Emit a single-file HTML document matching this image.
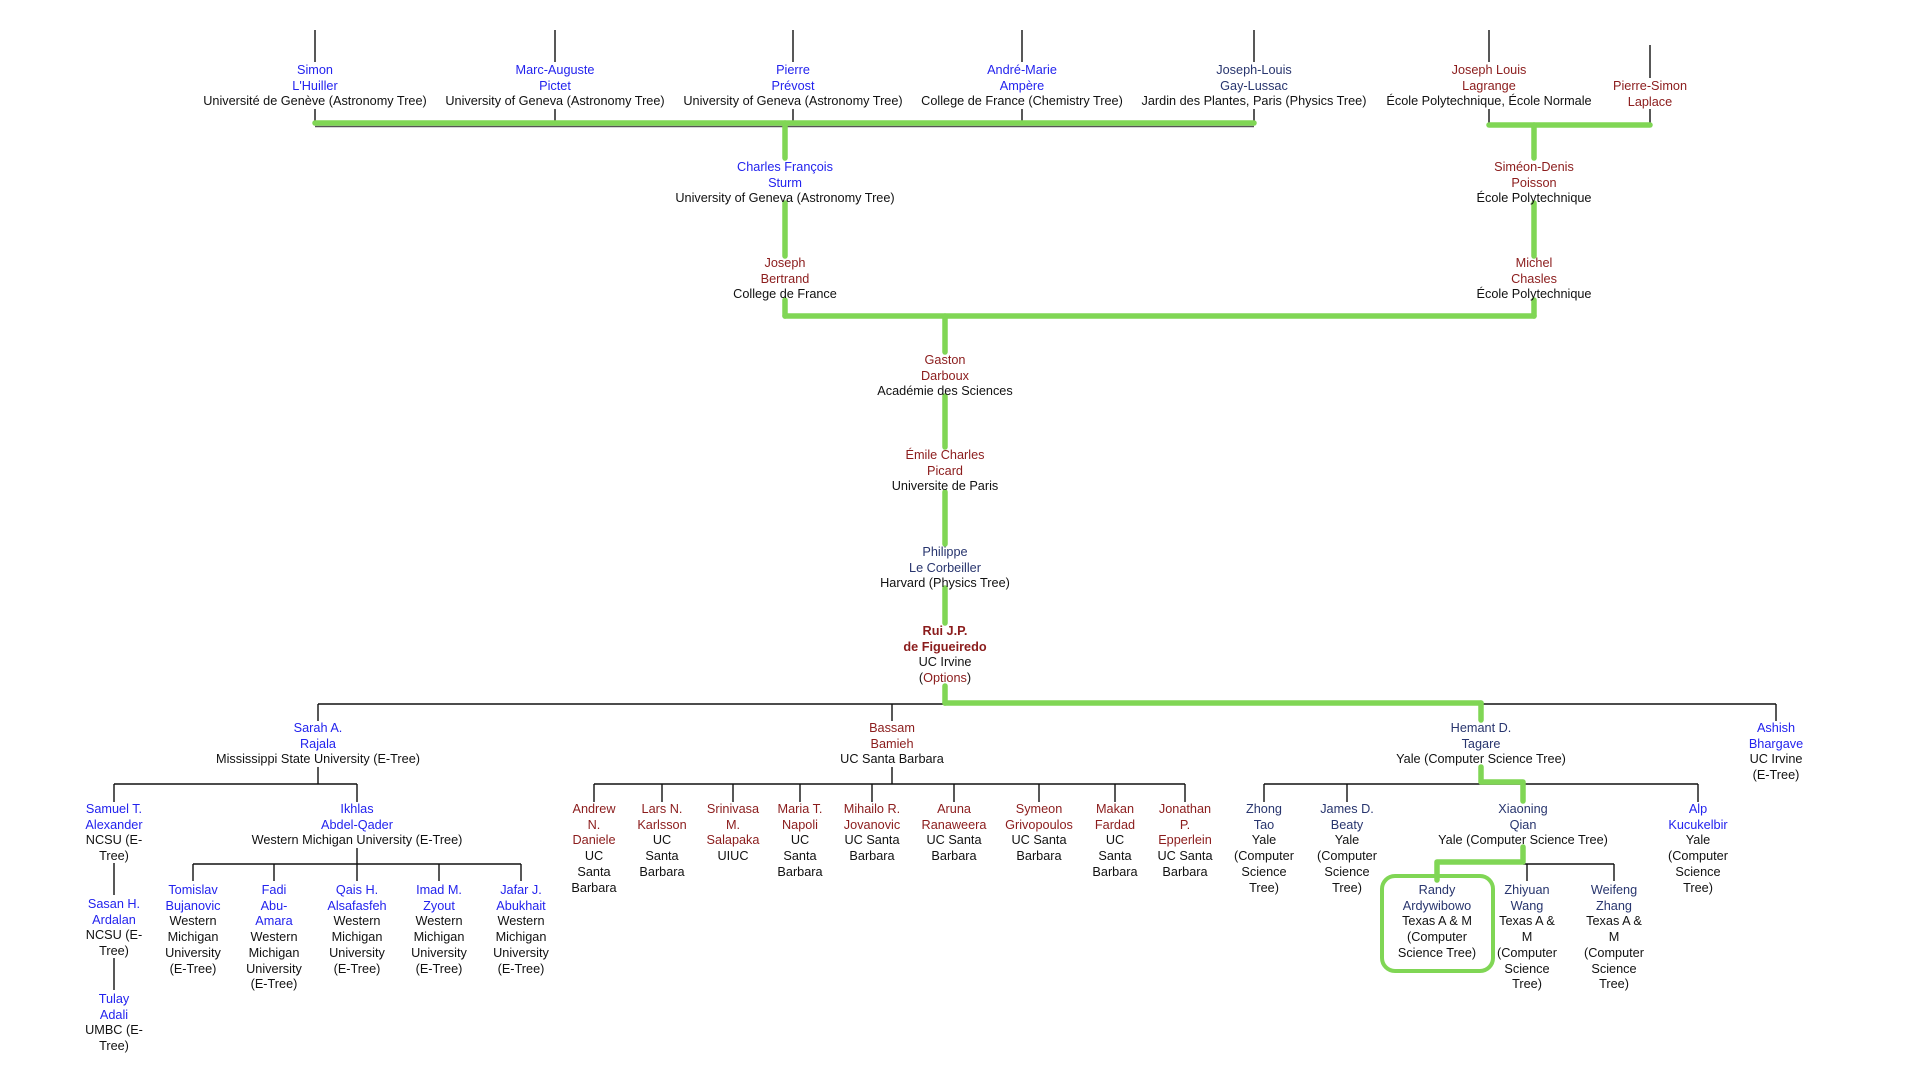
<!DOCTYPE html>
<html><head><meta charset="utf-8"><style>
body{margin:0;width:1920px;height:1080px;background:#fff;position:relative;overflow:hidden;font-family:"Liberation Sans",Arial,sans-serif;font-size:12.7px;color:#111}
.n{position:absolute;transform:translate(-50%,1px);text-align:center;white-space:nowrap;line-height:15.7px}
.b{color:#2323ee}.r{color:#8b1c1c}.v{color:#28356e}
svg{position:absolute;left:0;top:0}
</style></head><body>
<svg width="1920" height="1080">
<g stroke="#111" stroke-width="1.4" fill="none">
<line x1="315" y1="30" x2="315" y2="62"/><line x1="555" y1="30" x2="555" y2="62"/><line x1="793" y1="30" x2="793" y2="62"/><line x1="1022" y1="30" x2="1022" y2="62"/><line x1="1254" y1="30" x2="1254" y2="62"/><line x1="1489" y1="30" x2="1489" y2="62"/><line x1="1650" y1="45" x2="1650" y2="78"/>
<line x1="315" y1="109" x2="315" y2="124"/><line x1="555" y1="109" x2="555" y2="124"/><line x1="793" y1="109" x2="793" y2="124"/><line x1="1022" y1="109" x2="1022" y2="124"/><line x1="1254" y1="109" x2="1254" y2="124"/><line x1="1489" y1="109" x2="1489" y2="125"/><line x1="1650" y1="109" x2="1650" y2="125"/>
<line x1="315" y1="126.5" x2="1254" y2="126.5" stroke="#555"/>
<line x1="318" y1="704" x2="1776" y2="704"/>
<line x1="318" y1="704" x2="318" y2="721"/><line x1="892" y1="704" x2="892" y2="721"/><line x1="1776" y1="704" x2="1776" y2="721"/>
<line x1="318" y1="767" x2="318" y2="784"/><line x1="114" y1="784" x2="357" y2="784"/><line x1="114" y1="784" x2="114" y2="802"/><line x1="357" y1="784" x2="357" y2="802"/>
<line x1="114" y1="863" x2="114" y2="895"/><line x1="114" y1="958" x2="114" y2="990"/>
<line x1="357" y1="848" x2="357" y2="864"/><line x1="193" y1="864" x2="521" y2="864"/>
<line x1="193" y1="864" x2="193" y2="881"/><line x1="274" y1="864" x2="274" y2="881"/><line x1="357" y1="864" x2="357" y2="881"/><line x1="439" y1="864" x2="439" y2="881"/><line x1="521" y1="864" x2="521" y2="881"/>
<line x1="892" y1="767" x2="892" y2="784"/><line x1="594" y1="784" x2="1185" y2="784"/>
<line x1="594" y1="784" x2="594" y2="802"/><line x1="662" y1="784" x2="662" y2="802"/><line x1="733" y1="784" x2="733" y2="802"/><line x1="800" y1="784" x2="800" y2="802"/><line x1="872" y1="784" x2="872" y2="802"/><line x1="954" y1="784" x2="954" y2="802"/><line x1="1039" y1="784" x2="1039" y2="802"/><line x1="1115" y1="784" x2="1115" y2="802"/><line x1="1185" y1="784" x2="1185" y2="802"/>
<line x1="1264" y1="784" x2="1698" y2="784"/>
<line x1="1264" y1="784" x2="1264" y2="802"/><line x1="1347" y1="784" x2="1347" y2="802"/><line x1="1698" y1="784" x2="1698" y2="802"/>
<line x1="1523" y1="864" x2="1614" y2="864"/><line x1="1527" y1="864" x2="1527" y2="881"/><line x1="1614" y1="864" x2="1614" y2="881"/>
</g>
<g stroke="#80d655" stroke-width="5.5" fill="none" stroke-linecap="round" stroke-linejoin="round">
<line x1="315" y1="123" x2="1254" y2="123"/>
<line x1="1489" y1="125" x2="1650" y2="125"/>
<line x1="785" y1="123" x2="785" y2="158"/><line x1="785" y1="203" x2="785" y2="256"/><line x1="785" y1="300" x2="785" y2="316"/>
<line x1="1534" y1="125" x2="1534" y2="158"/><line x1="1534" y1="203" x2="1534" y2="256"/><line x1="1534" y1="300" x2="1534" y2="316"/>
<line x1="785" y1="316" x2="1534" y2="316"/>
<line x1="945" y1="316" x2="945" y2="352"/><line x1="945" y1="396" x2="945" y2="447"/><line x1="945" y1="492" x2="945" y2="544"/><line x1="945" y1="588" x2="945" y2="623"/><line x1="945" y1="686" x2="945" y2="703"/>
<line x1="945" y1="703" x2="1481" y2="703"/><line x1="1481" y1="703" x2="1481" y2="720"/>
<polyline points="1481,767 1481,782 1523,782 1523,801"/>
<polyline points="1523,847 1523,862 1437,862 1437,880"/>
</g>
<rect x="1382" y="876" width="111" height="95" rx="13" ry="13" fill="none" stroke="#80d655" stroke-width="4"/>
</svg>

<div class="n" style="left:315px;top:62px"><span class="b">Simon<br>L'Huiller</span><br>Université de Genève (Astronomy Tree)</div>
<div class="n" style="left:555px;top:62px"><span class="b">Marc-Auguste<br>Pictet</span><br>University of Geneva (Astronomy Tree)</div>
<div class="n" style="left:793px;top:62px"><span class="b">Pierre<br>Prévost</span><br>University of Geneva (Astronomy Tree)</div>
<div class="n" style="left:1022px;top:62px"><span class="b">André-Marie<br>Ampère</span><br>College de France (Chemistry Tree)</div>
<div class="n" style="left:1254px;top:62px"><span class="v">Joseph-Louis<br>Gay-Lussac</span><br>Jardin des Plantes, Paris (Physics Tree)</div>
<div class="n" style="left:1489px;top:62px"><span class="r">Joseph Louis<br>Lagrange</span><br>École Polytechnique, École Normale</div>
<div class="n" style="left:1650px;top:78px"><span class="r">Pierre-Simon<br>Laplace</span></div>

<div class="n" style="left:785px;top:159px"><span class="b">Charles François<br>Sturm</span><br>University of Geneva (Astronomy Tree)</div>
<div class="n" style="left:785px;top:255px"><span class="r">Joseph<br>Bertrand</span><br>College de France</div>
<div class="n" style="left:1534px;top:159px"><span class="r">Siméon-Denis<br>Poisson</span><br>École Polytechnique</div>
<div class="n" style="left:1534px;top:255px"><span class="r">Michel<br>Chasles</span><br>École Polytechnique</div>

<div class="n" style="left:945px;top:352px"><span class="r">Gaston<br>Darboux</span><br>Académie des Sciences</div>
<div class="n" style="left:945px;top:447px"><span class="r">Émile Charles<br>Picard</span><br>Universite de Paris</div>
<div class="n" style="left:945px;top:544px"><span class="v">Philippe<br>Le Corbeiller</span><br>Harvard (Physics Tree)</div>
<div class="n" style="left:945px;top:623px"><b class="r">Rui J.P.<br>de Figueiredo</b><br>UC Irvine<br>(<span class="r">Options</span>)</div>

<div class="n" style="left:318px;top:720px"><span class="b">Sarah A.<br>Rajala</span><br>Mississippi State University (E-Tree)</div>
<div class="n" style="left:892px;top:720px"><span class="r">Bassam<br>Bamieh</span><br>UC Santa Barbara</div>
<div class="n" style="left:1481px;top:720px"><span class="v">Hemant D.<br>Tagare</span><br>Yale (Computer Science Tree)</div>
<div class="n" style="left:1776px;top:720px"><span class="b">Ashish<br>Bhargave</span><br>UC Irvine<br>(E-Tree)</div>

<div class="n" style="left:114px;top:801px"><span class="b">Samuel T.<br>Alexander</span><br>NCSU (E-<br>Tree)</div>
<div class="n" style="left:114px;top:896px"><span class="b">Sasan H.<br>Ardalan</span><br>NCSU (E-<br>Tree)</div>
<div class="n" style="left:114px;top:991px"><span class="b">Tulay<br>Adali</span><br>UMBC (E-<br>Tree)</div>
<div class="n" style="left:357px;top:801px"><span class="b">Ikhlas<br>Abdel-Qader</span><br>Western Michigan University (E-Tree)</div>

<div class="n" style="left:193px;top:882px"><span class="b">Tomislav<br>Bujanovic</span><br>Western<br>Michigan<br>University<br>(E-Tree)</div>
<div class="n" style="left:274px;top:882px"><span class="b">Fadi<br>Abu-<br>Amara</span><br>Western<br>Michigan<br>University<br>(E-Tree)</div>
<div class="n" style="left:357px;top:882px"><span class="b">Qais H.<br>Alsafasfeh</span><br>Western<br>Michigan<br>University<br>(E-Tree)</div>
<div class="n" style="left:439px;top:882px"><span class="b">Imad M.<br>Zyout</span><br>Western<br>Michigan<br>University<br>(E-Tree)</div>
<div class="n" style="left:521px;top:882px"><span class="b">Jafar J.<br>Abukhait</span><br>Western<br>Michigan<br>University<br>(E-Tree)</div>

<div class="n" style="left:594px;top:801px"><span class="r">Andrew<br>N.<br>Daniele</span><br>UC<br>Santa<br>Barbara</div>
<div class="n" style="left:662px;top:801px"><span class="r">Lars N.<br>Karlsson</span><br>UC<br>Santa<br>Barbara</div>
<div class="n" style="left:733px;top:801px"><span class="r">Srinivasa<br>M.<br>Salapaka</span><br>UIUC</div>
<div class="n" style="left:800px;top:801px"><span class="r">Maria T.<br>Napoli</span><br>UC<br>Santa<br>Barbara</div>
<div class="n" style="left:872px;top:801px"><span class="r">Mihailo R.<br>Jovanovic</span><br>UC Santa<br>Barbara</div>
<div class="n" style="left:954px;top:801px"><span class="r">Aruna<br>Ranaweera</span><br>UC Santa<br>Barbara</div>
<div class="n" style="left:1039px;top:801px"><span class="r">Symeon<br>Grivopoulos</span><br>UC Santa<br>Barbara</div>
<div class="n" style="left:1115px;top:801px"><span class="r">Makan<br>Fardad</span><br>UC<br>Santa<br>Barbara</div>
<div class="n" style="left:1185px;top:801px"><span class="r">Jonathan<br>P.<br>Epperlein</span><br>UC Santa<br>Barbara</div>

<div class="n" style="left:1264px;top:801px"><span class="v">Zhong<br>Tao</span><br>Yale<br>(Computer<br>Science<br>Tree)</div>
<div class="n" style="left:1347px;top:801px"><span class="v">James D.<br>Beaty</span><br>Yale<br>(Computer<br>Science<br>Tree)</div>
<div class="n" style="left:1523px;top:801px"><span class="v">Xiaoning<br>Qian</span><br>Yale (Computer Science Tree)</div>
<div class="n" style="left:1698px;top:801px"><span class="b">Alp<br>Kucukelbir</span><br>Yale<br>(Computer<br>Science<br>Tree)</div>

<div class="n" style="left:1437px;top:882px"><span class="v">Randy<br>Ardywibowo</span><br>Texas A &amp; M<br>(Computer<br>Science Tree)</div>
<div class="n" style="left:1527px;top:882px"><span class="v">Zhiyuan<br>Wang</span><br>Texas A &amp;<br>M<br>(Computer<br>Science<br>Tree)</div>
<div class="n" style="left:1614px;top:882px"><span class="v">Weifeng<br>Zhang</span><br>Texas A &amp;<br>M<br>(Computer<br>Science<br>Tree)</div>
</body></html>
